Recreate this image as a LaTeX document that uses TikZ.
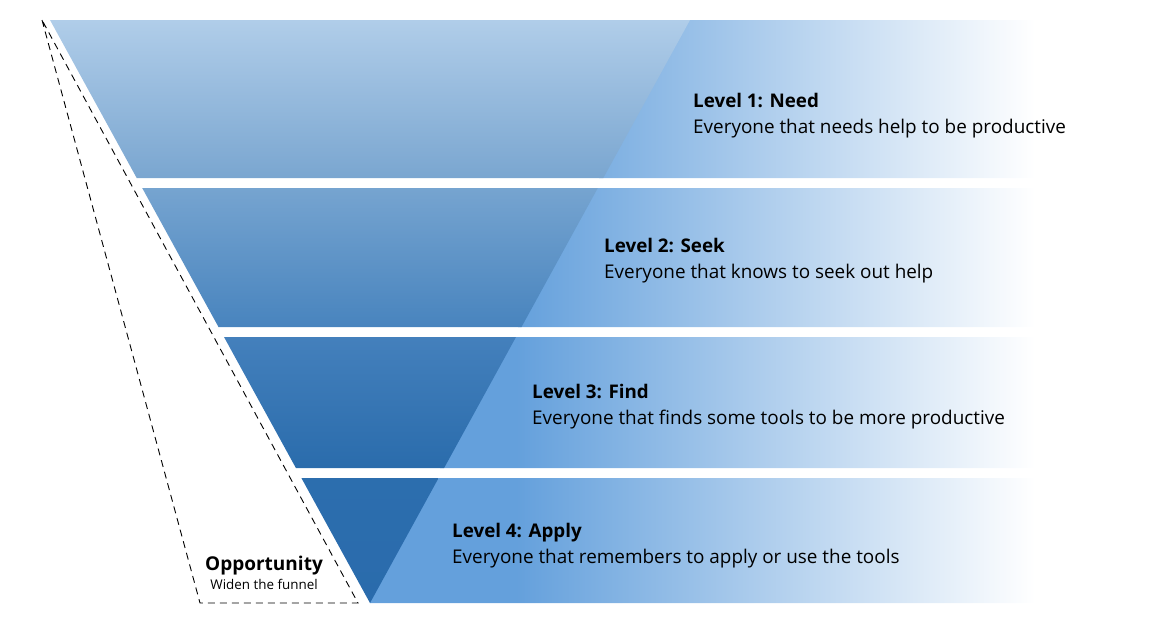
\documentclass[tikz,border=0pt]{standalone}
\usepackage{fontspec}
\setmainfont{Open Sans}
\definecolor{bandblue}{RGB}{100,160,220}
\definecolor{bOneTop}{RGB}{176,205,233}
\definecolor{bOneBot}{RGB}{122,166,208}
\definecolor{bTwoTop}{RGB}{118,164,208}
\definecolor{bTwoBot}{RGB}{72,132,190}
\definecolor{bThreeTop}{RGB}{68,128,188}
\definecolor{bThreeBot}{RGB}{42,108,172}
\definecolor{bFourTop}{RGB}{44,110,174}
\definecolor{bFourBot}{RGB}{42,107,172}
\pgfdeclarehorizontalshading{bandfade}{100bp}{color(0bp)=(bandblue); color(36bp)=(bandblue); color(75bp)=(white); color(100bp)=(white)}
\tikzset{
  fadeband/.style={shading=bandfade},
  titletext/.style={anchor=base west, inner sep=0pt, font=\fontsize{18.8}{22}\selectfont\bfseries},
  bodytext/.style={anchor=base west, inner sep=0pt, font=\fontsize{18.9}{22}\selectfont},
  guide/.style={draw=black, line width=0.9pt, dash pattern=on 7pt off 5pt}
}
\begin{document}
\begin{tikzpicture}[x=1pt, y=-1pt]
\useasboundingbox (0,0) rectangle (1156,633);
% right gradient bands (clipped so they start under the funnel edge)
\begin{scope}
\clip (686,20) -- (1035,20) -- (1035,178) -- (599,178) -- cycle;
\shade[fadeband] (370,20) rectangle (1035,178);
\end{scope}
\begin{scope}
\clip (594,188) -- (1035,188) -- (1035,327) -- (518,327) -- cycle;
\shade[fadeband] (370,188) rectangle (1035,327);
\end{scope}
\begin{scope}
\clip (512,337) -- (1035,337) -- (1035,468) -- (440,468) -- cycle;
\shade[fadeband] (370,337) rectangle (1035,468);
\end{scope}
\begin{scope}
\clip (435,478) -- (1035,478) -- (1035,603) -- (367,603) -- cycle;
\shade[fadeband] (370,478) rectangle (1035,603);
\end{scope}
% funnel sections
\shade[top color=bOneTop, bottom color=bOneBot] (50,20) -- (690,20) -- (603.3,178) -- (136.7,178) -- cycle;
\shade[top color=bTwoTop, bottom color=bTwoBot] (142.2,188) -- (597.8,188) -- (521.5,327) -- (218.5,327) -- cycle;
\shade[top color=bThreeTop, bottom color=bThreeBot] (224,337) -- (516,337) -- (444.1,468) -- (295.9,468) -- cycle;
\shade[top color=bFourTop, bottom color=bFourBot] (301.4,478) -- (438.6,478) -- (370,603) -- cycle;
% opportunity outline
\coordinate (otop) at (42,20);
\coordinate (oleft) at (200,603);
\coordinate (oright) at (358,603);
\draw[guide] (otop) -- (oleft) -- (oright) -- cycle;
% labels
\node[titletext] (t1) at (693,107) {Level 1: Need};
\node[bodytext] (d1) at (693,133) {Everyone that needs help to be productive};
\node[titletext] (t2) at (604,252) {Level 2: Seek};
\node[bodytext] (d2) at (604,278) {Everyone that knows to seek out help};
\node[titletext] (t3) at (532,398) {Level 3: Find};
\node[bodytext] (d3) at (532,424) {Everyone that finds some tools to be more productive};
\node[titletext] (t4) at (452,537) {Level 4: Apply};
\node[bodytext] (d4) at (452,563) {Everyone that remembers to apply or use the tools};
\node[anchor=base, inner sep=0pt, font=\fontsize{19}{22}\selectfont\bfseries] (op) at (264,570) {Opportunity};
\node[anchor=base, inner sep=0pt, font=\fontsize{13.4}{15}\selectfont] (ops) at (264,589) {Widen the funnel};
\end{tikzpicture}
\end{document}
